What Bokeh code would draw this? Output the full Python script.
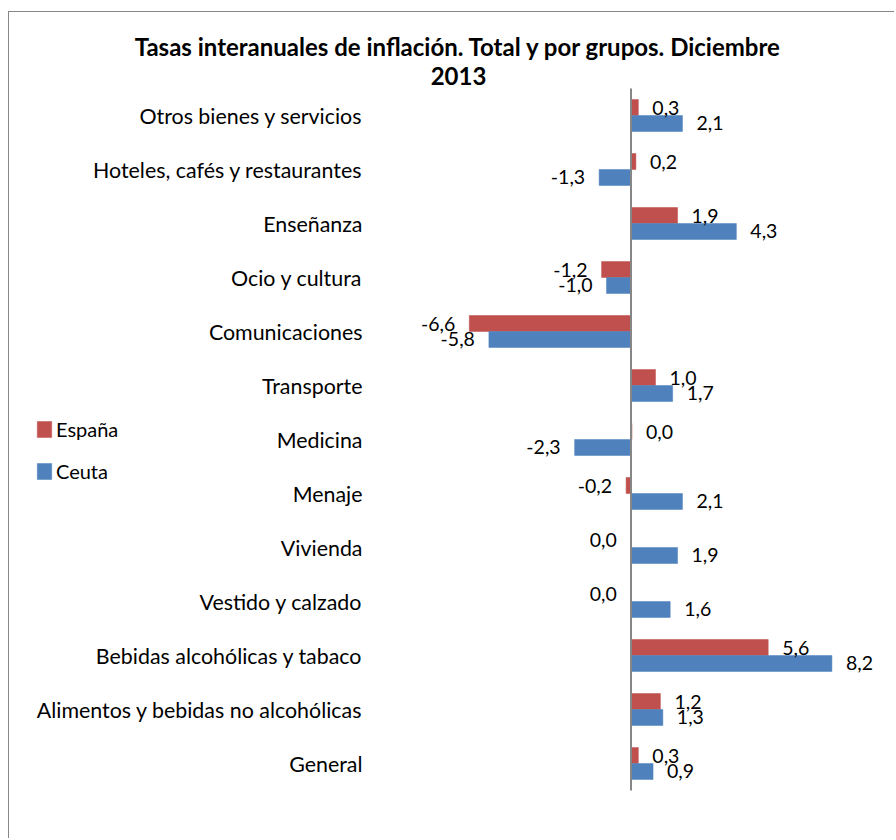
import numpy as np
from bokeh.plotting import figure
from bokeh.models import ColumnDataSource, Range1d, Legend, LegendItem
from bokeh.core.properties import value
from bokeh.embed import file_html
from bokeh.resources import INLINE

# ---------------- data ----------------
categories = [
    "General",
    "Alimentos y bebidas no alcohólicas",
    "Bebidas alcohólicas y tabaco",
    "Vestido y calzado",
    "Vivienda",
    "Menaje",
    "Medicina",
    "Transporte",
    "Comunicaciones",
    "Ocio y cultura",
    "Enseñanza",
    "Hoteles, cafés y restaurantes",
    "Otros bienes y servicios",
]
espana = [0.3, 1.2, 5.6, -0.01, -0.01, -0.2, 0.04, 1.0, -6.6, -1.2, 1.9, 0.2, 0.3]
ceuta = [0.9, 1.3, 8.2, 1.6, 1.9, 2.1, -2.3, 1.7, -5.8, -1.0, 4.3, -1.3, 2.1]
series_names = ["España", "Ceuta"]
title_lines = ["Tasas interanuales de inflación. Total y por grupos. Diciembre", "2013"]

# ---------------- styles / layout ----------------
RED = "#C0504D"
BLUE = "#4F81BD"
AXIS_GREY = "#868686"
FONT = "Lato"
W, H = 886, 827            # canvas size (placed at page x=9, y=12)
PX_PER_UNIT = 24.5         # px per percentage point
ZERO_X = 621.5             # canvas x of value 0
ROW = 54.0                 # px per category row
PLOT_TOP = 76              # canvas y of the top of the category area
BAR_H = 0.296
OFF = BAR_H / 2
LABEL_GAP = 14

n = len(categories)
ypos = np.arange(n) + 0.5
plot_bottom = PLOT_TOP + n * ROW


def fmt(v):
    return f"{round(v, 1) + 0.0:.1f}".replace(".", ",")


def make_source(vals, off):
    vals = np.array(vals, dtype=float)
    pos = vals > 0
    return ColumnDataSource(dict(
        y=ypos + off,
        val=vals,
        lab=[fmt(v) for v in vals],
        align=np.where(pos, "left", "right").tolist(),
        xoff=np.where(pos, LABEL_GAP, -LABEL_GAP).tolist(),
    ))


src_es = make_source(espana, OFF)
src_ce = make_source(ceuta, -OFF)

x_range = Range1d(-ZERO_X / PX_PER_UNIT, (W - ZERO_X) / PX_PER_UNIT)
y_range = Range1d(-(H - plot_bottom) / ROW, n + PLOT_TOP / ROW)


def px_to_x(cx):
    return (cx - ZERO_X) / PX_PER_UNIT


def py_to_y(cy):
    return (plot_bottom - cy) / ROW


p = figure(
    width=W, height=H,
    x_range=x_range, y_range=y_range,
    x_axis_location=None, y_axis_location=None,
    output_backend="svg", toolbar_location=None,
    min_border=0,
)
p.styles = {
    "border-left": "1px solid #878787",
    "border-top": "1px solid #878787",
    "margin-left": "8px",
    "margin-top": "11px",
}
p.outline_line_color = None
p.grid.visible = False
p.background_fill_color = "white"
p.border_fill_color = "white"

# bars
r_es = p.hbar(y="y", right="val", left=0, height=BAR_H, source=src_es,
              fill_color=RED, line_color=RED, line_alpha=0.5)
r_ce = p.hbar(y="y", right="val", left=0, height=BAR_H, source=src_ce,
              fill_color=BLUE, line_color=BLUE, line_alpha=0.5)

# vertical (category) axis line at 0
p.segment(x0=[0], y0=[0], x1=[0], y1=[n], line_color=AXIS_GREY, line_width=2)

# category labels (axis labels, "low" position)
p.text(x=[px_to_x(353)] * n, y=ypos, text=categories,
       text_align="right", text_baseline="middle",
       text_font=value(FONT), text_font_size="21.4px", text_color="black")

# data labels
for src in (src_es, src_ce):
    p.text(x="val", y="y", text="lab", source=src,
           x_offset="xoff", text_align="align", text_baseline="middle",
           text_font=value(FONT), text_font_size="19.5px", text_color="black")

# title (two lines)
p.text(x=[px_to_x(449)] * 2, y=[py_to_y(34), py_to_y(63)], text=title_lines,
       text_align="center", text_baseline="middle",
       text_font=value(FONT), text_font_size="24px", text_font_style="bold",
       text_color="black")

legend = Legend(
    items=[LegendItem(label=series_names[0], renderers=[r_es]),
           LegendItem(label=series_names[1], renderers=[r_ce])],
    location=(26, H - 460 - 11),
    glyph_width=18, glyph_height=20, label_height=20, label_standoff=3,
    spacing=18, padding=0, margin=0,
    border_line_color=None, background_fill_alpha=0,
    label_text_font=FONT, label_text_font_size="20px", label_text_color="black",
)
p.add_layout(legend)

open("out.html", "w").write(file_html(p, INLINE))
